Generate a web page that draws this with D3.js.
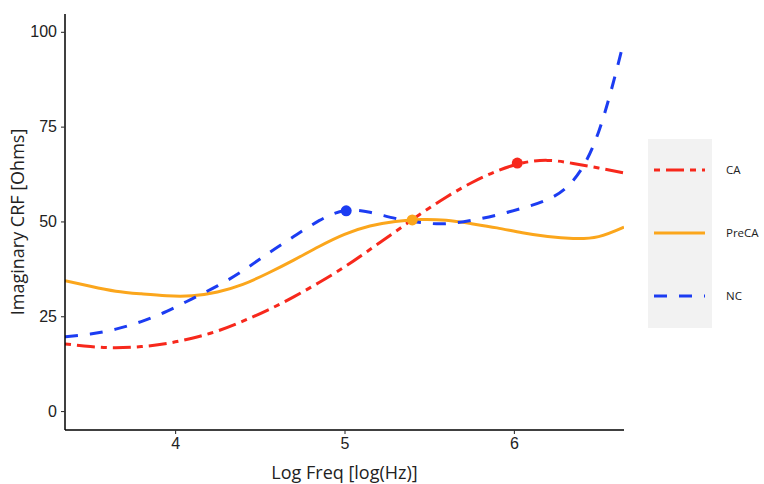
<!DOCTYPE html>
<html>
<head>
<meta charset="utf-8">
<script src="https://cdn.jsdelivr.net/npm/d3@7"></script>
<style>
  body { margin: 0; background: #fff; }
</style>
</head>
<body>
<script>
var logFreq = [3.35, 3.5, 3.65, 3.8, 3.95, 4.1, 4.25, 4.4, 4.55, 4.7, 4.85, 5.0, 5.15, 5.3, 5.45, 5.6, 5.75, 5.9, 6.05, 6.2, 6.35, 6.5, 6.65];
var ca    = [17.7, 17.0, 16.7, 17.0, 17.8, 19.2, 21.1, 23.7, 26.7, 30.1, 33.9, 38.0, 42.6, 47.3, 52.0, 56.4, 60.2, 63.3, 65.4, 66.1, 65.3, 64.1, 62.8];
var preca = [34.4, 32.9, 31.6, 30.9, 30.4, 30.4, 31.4, 33.4, 36.4, 39.8, 43.4, 46.6, 48.8, 50.0, 50.5, 50.3, 49.4, 48.3, 47.0, 46.0, 45.5, 46.0, 48.5];
var nc    = [19.6, 20.3, 21.6, 23.6, 26.3, 29.6, 33.0, 37.0, 41.6, 46.0, 50.2, 52.8, 52.4, 50.8, 49.7, 49.4, 50.3, 51.7, 53.5, 55.8, 60.8, 73.6, 97.6];

var seriesNames = ["CA", "PreCA", "NC"];
var seriesValues = [ca, preca, nc];
var peakX = [6.02, 5.40, 5.01];
var peakY = [65.4, 50.4, 52.8];

var xTicks = [4, 5, 6];
var yTicks = [0, 25, 50, 75, 100];

var colors = ["#f7281c", "#fba61c", "#1c3cf2"];
var dashes = ["6,6,18,6", null, "13,12"];

var w = 764;
var h = 484;
var pLeft = 65, pRight = 624, pTop = 14, pBottom = 430;

var svg = d3.select("body").append("svg")
  .attr("width", w)
  .attr("height", h);

var x = d3.scaleLinear().domain([3.35, 6.65]).range([pLeft, pRight]);
var y = d3.scaleLinear().domain([-5, 104.7]).range([pBottom, pTop]);

svg.append("clipPath").attr("id", "panel")
  .append("rect")
  .attr("x", pLeft).attr("y", pTop)
  .attr("width", pRight - pLeft).attr("height", pBottom - pTop);

var line = d3.line()
  .x(function(d) { return x(d[0]); })
  .y(function(d) { return y(d[1]); })
  .curve(d3.curveNatural);

var lines = svg.append("g").attr("clip-path", "url(#panel)");

seriesValues.forEach(function(vals, i) {
  var pts = logFreq.map(function(f, j) { return [f, vals[j]]; });
  lines.append("path")
    .attr("d", line(pts))
    .attr("fill", "none")
    .attr("stroke", colors[i])
    .attr("stroke-width", 3)
    .attr("stroke-dasharray", dashes[i]);
});

seriesNames.forEach(function(n, i) {
  svg.append("circle")
    .attr("cx", x(peakX[i]))
    .attr("cy", y(peakY[i]))
    .attr("r", 5.5)
    .attr("fill", colors[i]);
});

// axes
var xAxis = svg.append("g")
  .attr("transform", "translate(0," + pBottom + ")")
  .call(d3.axisBottom(x).tickValues(xTicks).tickSize(4).tickPadding(4).tickFormat(d3.format("d")));
var yAxis = svg.append("g")
  .attr("transform", "translate(" + pLeft + ",0)")
  .call(d3.axisLeft(y).tickValues(yTicks).tickSize(4).tickPadding(4).tickFormat(d3.format("d")));

[xAxis, yAxis].forEach(function(a) {
  a.select(".domain").attr("stroke", "#000").attr("stroke-width", 1.5);
  a.selectAll(".tick line").attr("stroke", "#333").attr("stroke-width", 1.1);
  a.selectAll(".tick text")
    .attr("fill", "#222")
    .style("font-family", "'Liberation Sans', Arial, sans-serif")
    .style("font-size", "16px");
});
xAxis.select(".domain").attr("d", "M" + pLeft + ",0H" + pRight);
yAxis.select(".domain").attr("d", "M0," + pTop + "V" + pBottom);

svg.append("text")
  .attr("x", (pLeft + pRight) / 2)
  .attr("y", 479)
  .attr("text-anchor", "middle")
  .style("font-family", "'Open Sans', sans-serif")
  .style("font-size", "18px")
  .attr("fill", "#222")
  .text("Log Freq [log(Hz)]");

svg.append("text")
  .attr("transform", "translate(24," + ((pTop + pBottom) / 2) + ") rotate(-90)")
  .attr("text-anchor", "middle")
  .style("font-family", "'Open Sans', sans-serif")
  .style("font-size", "18px")
  .attr("fill", "#222")
  .text("Imaginary CRF [Ohms]");

// legend
var legend = svg.append("g");
legend.append("rect")
  .attr("x", 648).attr("y", 139)
  .attr("width", 64).attr("height", 189)
  .attr("fill", "#f2f2f2");

seriesNames.forEach(function(n, i) {
  var ly = 170 + i * 63;
  legend.append("line")
    .attr("x1", 654).attr("x2", 705)
    .attr("y1", ly).attr("y2", ly)
    .attr("stroke", colors[i])
    .attr("stroke-width", 3)
    .attr("stroke-dasharray", dashes[i]);
  legend.append("text")
    .attr("x", 726)
    .attr("y", ly + 4)
    .style("font-family", "'Open Sans', sans-serif")
    .style("font-size", "11.5px")
    .attr("fill", "#222")
    .text(n);
});
</script>
</body>
</html>
